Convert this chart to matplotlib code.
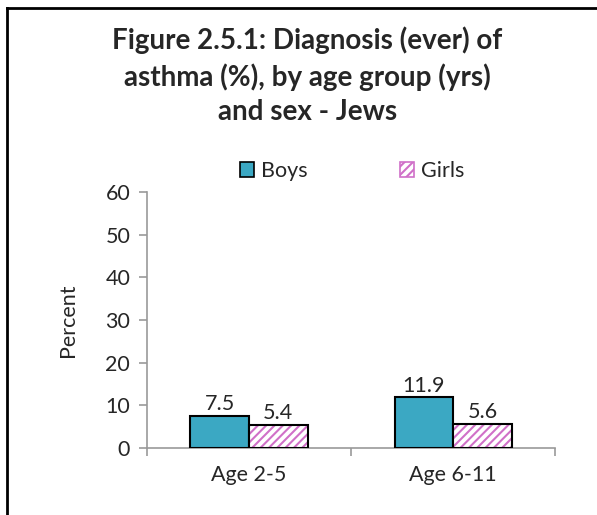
import matplotlib
matplotlib.use("Agg")
import matplotlib.pyplot as plt
import numpy as np
from matplotlib.lines import Line2D
from matplotlib.patches import Patch

categories = ["Age 2-5", "Age 6-11"]
boys = [7.5, 11.9]
girls = [5.4, 5.6]
yticks = [0, 10, 20, 30, 40, 50, 60]
title = "Figure 2.5.1: Diagnosis (ever) of\nasthma (%), by age group (yrs)\nand sex - Jews"

plt.rcParams['font.family'] = ['Lato', 'DejaVu Sans']
plt.rcParams['hatch.linewidth'] = 1.5
boy_color = "#3BA8C3"
girl_hatch = "#D070C8"
text_color = "#262626"

fig = plt.figure(figsize=(5.97, 5.15), dpi=100)
ax = fig.add_axes([0.246, 0.130, 0.684, 0.497])

x = np.arange(len(categories))
w = 0.287
ax.bar(x - w/2, boys, w, color=boy_color, edgecolor="black", linewidth=1.5, zorder=3)
ax.bar(x + w/2, girls, w, color="white", edgecolor=girl_hatch, hatch="////", linewidth=0, zorder=3)
ax.bar(x + w/2, girls, w, color="none", edgecolor="black", linewidth=1.5, zorder=4)

fs = 15.5
for xi, v in zip(x - w/2, boys):
    ax.text(xi, v + 0.4, f"{v}", ha="center", va="bottom", fontsize=fs, color=text_color)
for xi, v in zip(x + w/2, girls):
    ax.text(xi, v + 0.4, f"{v}", ha="center", va="bottom", fontsize=fs, color=text_color)

ax.set_xlim(-0.5, 1.5)
ax.set_ylim(0, 60)
ax.set_yticks(yticks)
ax.set_yticklabels([str(t) for t in yticks], fontsize=fs, color=text_color)
ax.set_xticks(x)
ax.set_xticklabels(categories, fontsize=fs, color=text_color)
ax.set_xticks([-0.5, 0.5, 1.5], minor=True)
ax.tick_params(axis='x', which='major', length=0, pad=12)
ax.tick_params(axis='x', which='minor', length=6, color="#999999", width=1.2)
ax.tick_params(axis='y', length=6, color="#999999", width=1.2, pad=6)
for s in ["top", "right"]:
    ax.spines[s].set_visible(False)
ax.spines["left"].set_color("#999999")
ax.spines["bottom"].set_color("#999999")
ax.spines["left"].set_linewidth(1.2)
ax.spines["bottom"].set_linewidth(1.2)
ax.set_ylabel("Percent", fontsize=fs, color=text_color, labelpad=20)

fig.text(0.515, 0.948, title, ha="center", va="top", fontsize=20, fontweight="bold",
         color=text_color, linespacing=1.38)

handles = [Patch(facecolor=boy_color, edgecolor="black", linewidth=1.2),
           Patch(facecolor="white", edgecolor=girl_hatch, hatch="////", linewidth=1.2)]
leg = fig.legend(handles, ["Boys", "Girls"], loc="center", bbox_to_anchor=(0.59, 0.668),
                 ncol=2, frameon=False, fontsize=fs, handlelength=0.65, handleheight=0.65,
                 handletextpad=0.3, columnspacing=4.3)
for t in leg.get_texts():
    t.set_color(text_color)

fig.add_artist(Line2D([0.012, 0.012], [0.0, 0.985], transform=fig.transFigure, color="black", linewidth=2))
fig.add_artist(Line2D([0.011, 1.0], [0.985, 0.985], transform=fig.transFigure, color="black", linewidth=2))

fig.savefig("out.png", dpi=100)
